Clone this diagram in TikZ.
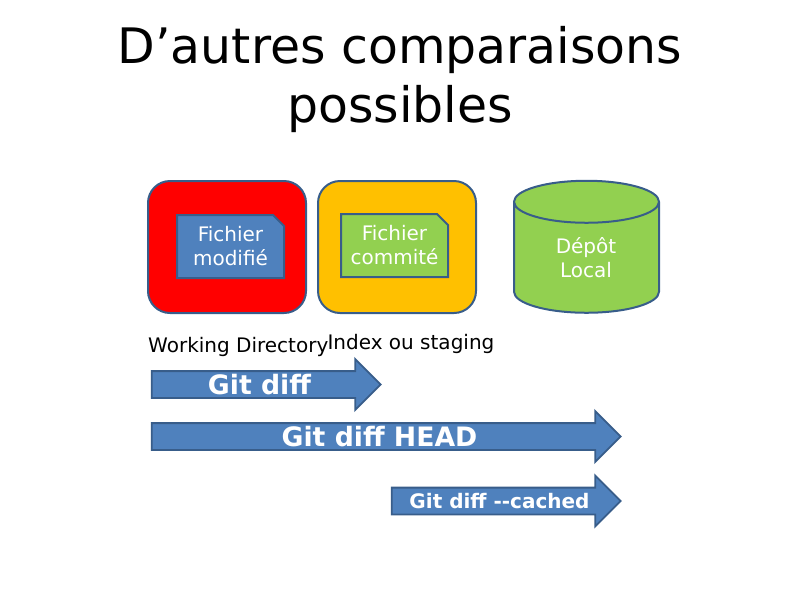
\documentclass[tikz,border=0pt]{standalone}
\usepackage{fontspec}
\setmainfont{DejaVu Sans}
\usetikzlibrary{shapes.geometric, shapes.arrows, shapes.misc}
\definecolor{slideblue}{HTML}{4F81BD}
\definecolor{slideline}{HTML}{385D8A}
\definecolor{slidegreen}{HTML}{92D050}
\definecolor{slideorange}{HTML}{FFC000}
\tikzset{
    zone/.style={rectangle, rounded corners=22pt, draw=slideline, line width=2pt,
        minimum width=158pt, minimum height=132pt},
    fichier/.style={chamfered rectangle, chamfered rectangle corners=north east,
        chamfered rectangle xsep=5.5pt, chamfered rectangle ysep=5.5pt,
        draw=slideline, line width=2pt, text=white, align=center, inner sep=0pt,
        minimum width=107pt, minimum height=63pt,
        font=\fontsize{20}{24}\selectfont},
    depot/.style={cylinder, shape border rotate=90, aspect=1.05, draw=slideline,
        line width=2pt, fill=slidegreen, inner xsep=20pt, inner ysep=20pt,
        minimum width=145pt, minimum height=132pt},
    etiquette/.style={text=white, align=center, font=\fontsize{20}{24}\selectfont},
    fleche/.style={single arrow, draw=slideline, line width=1.8pt, fill=slideblue,
        single arrow head extend=12pt, single arrow head indent=0pt,
        minimum width=50pt, inner sep=0pt, outer sep=0pt, text=white,
        text height=22.5pt, text depth=2.5pt,
        font=\bfseries\fontsize{26.7}{30}\selectfont},
    titre/.style={align=center, font=\fontsize{48.9}{59}\selectfont},
    nom/.style={anchor=base west, font=\fontsize{20}{24}\selectfont}
}
\begin{document}
\begin{tikzpicture}[x=1pt, y=-1pt]
    \useasboundingbox (0,0) rectangle (800,600);
    % Title
    \node[titre] (Titre) at (400,80) {D’autres comparaisons\\possibles};
    % Zones
    \foreach \i/\c/\x in {1/red/227,2/slideorange/397} {
        \node[zone, fill=\c] (Zone-\i) at (\x,247) {};
    }
    % Files
    \node[fichier, fill=slideblue] (Fichier-1) at (230.5,246.5) {Fichier\\modifié};
    \node[fichier, fill=slidegreen] (Fichier-2) at (394.5,245.5) {Fichier\\commité};
    % Repository
    \node[depot] (Depot) at (586.5,265) {};
    \node[etiquette] (Depot-texte) at (586,258) {Dépôt\\Local};
    % Captions
    \node[nom] (Nom-1) at (144.7,352) {Working Directory};
    \node[nom] (Nom-2) at (324,349) {Index ou staging};
    % Arrows
    \foreach \i/\x/\y/\l/\t in {1/259.5/384.5/229/Git diff,2/379.5/436.5/469/Git diff HEAD} {
        \node[fleche, minimum height=\l pt] (Fleche-\i) at (\x,\y) {\t};
    }
    \node[fleche, minimum height=229pt, text height=20pt, text depth=5pt,
        font=\bfseries\fontsize{20}{24}\selectfont] (Fleche-3) at (499.5,501) {Git diff -{}-cached};
\end{tikzpicture}
\end{document}
